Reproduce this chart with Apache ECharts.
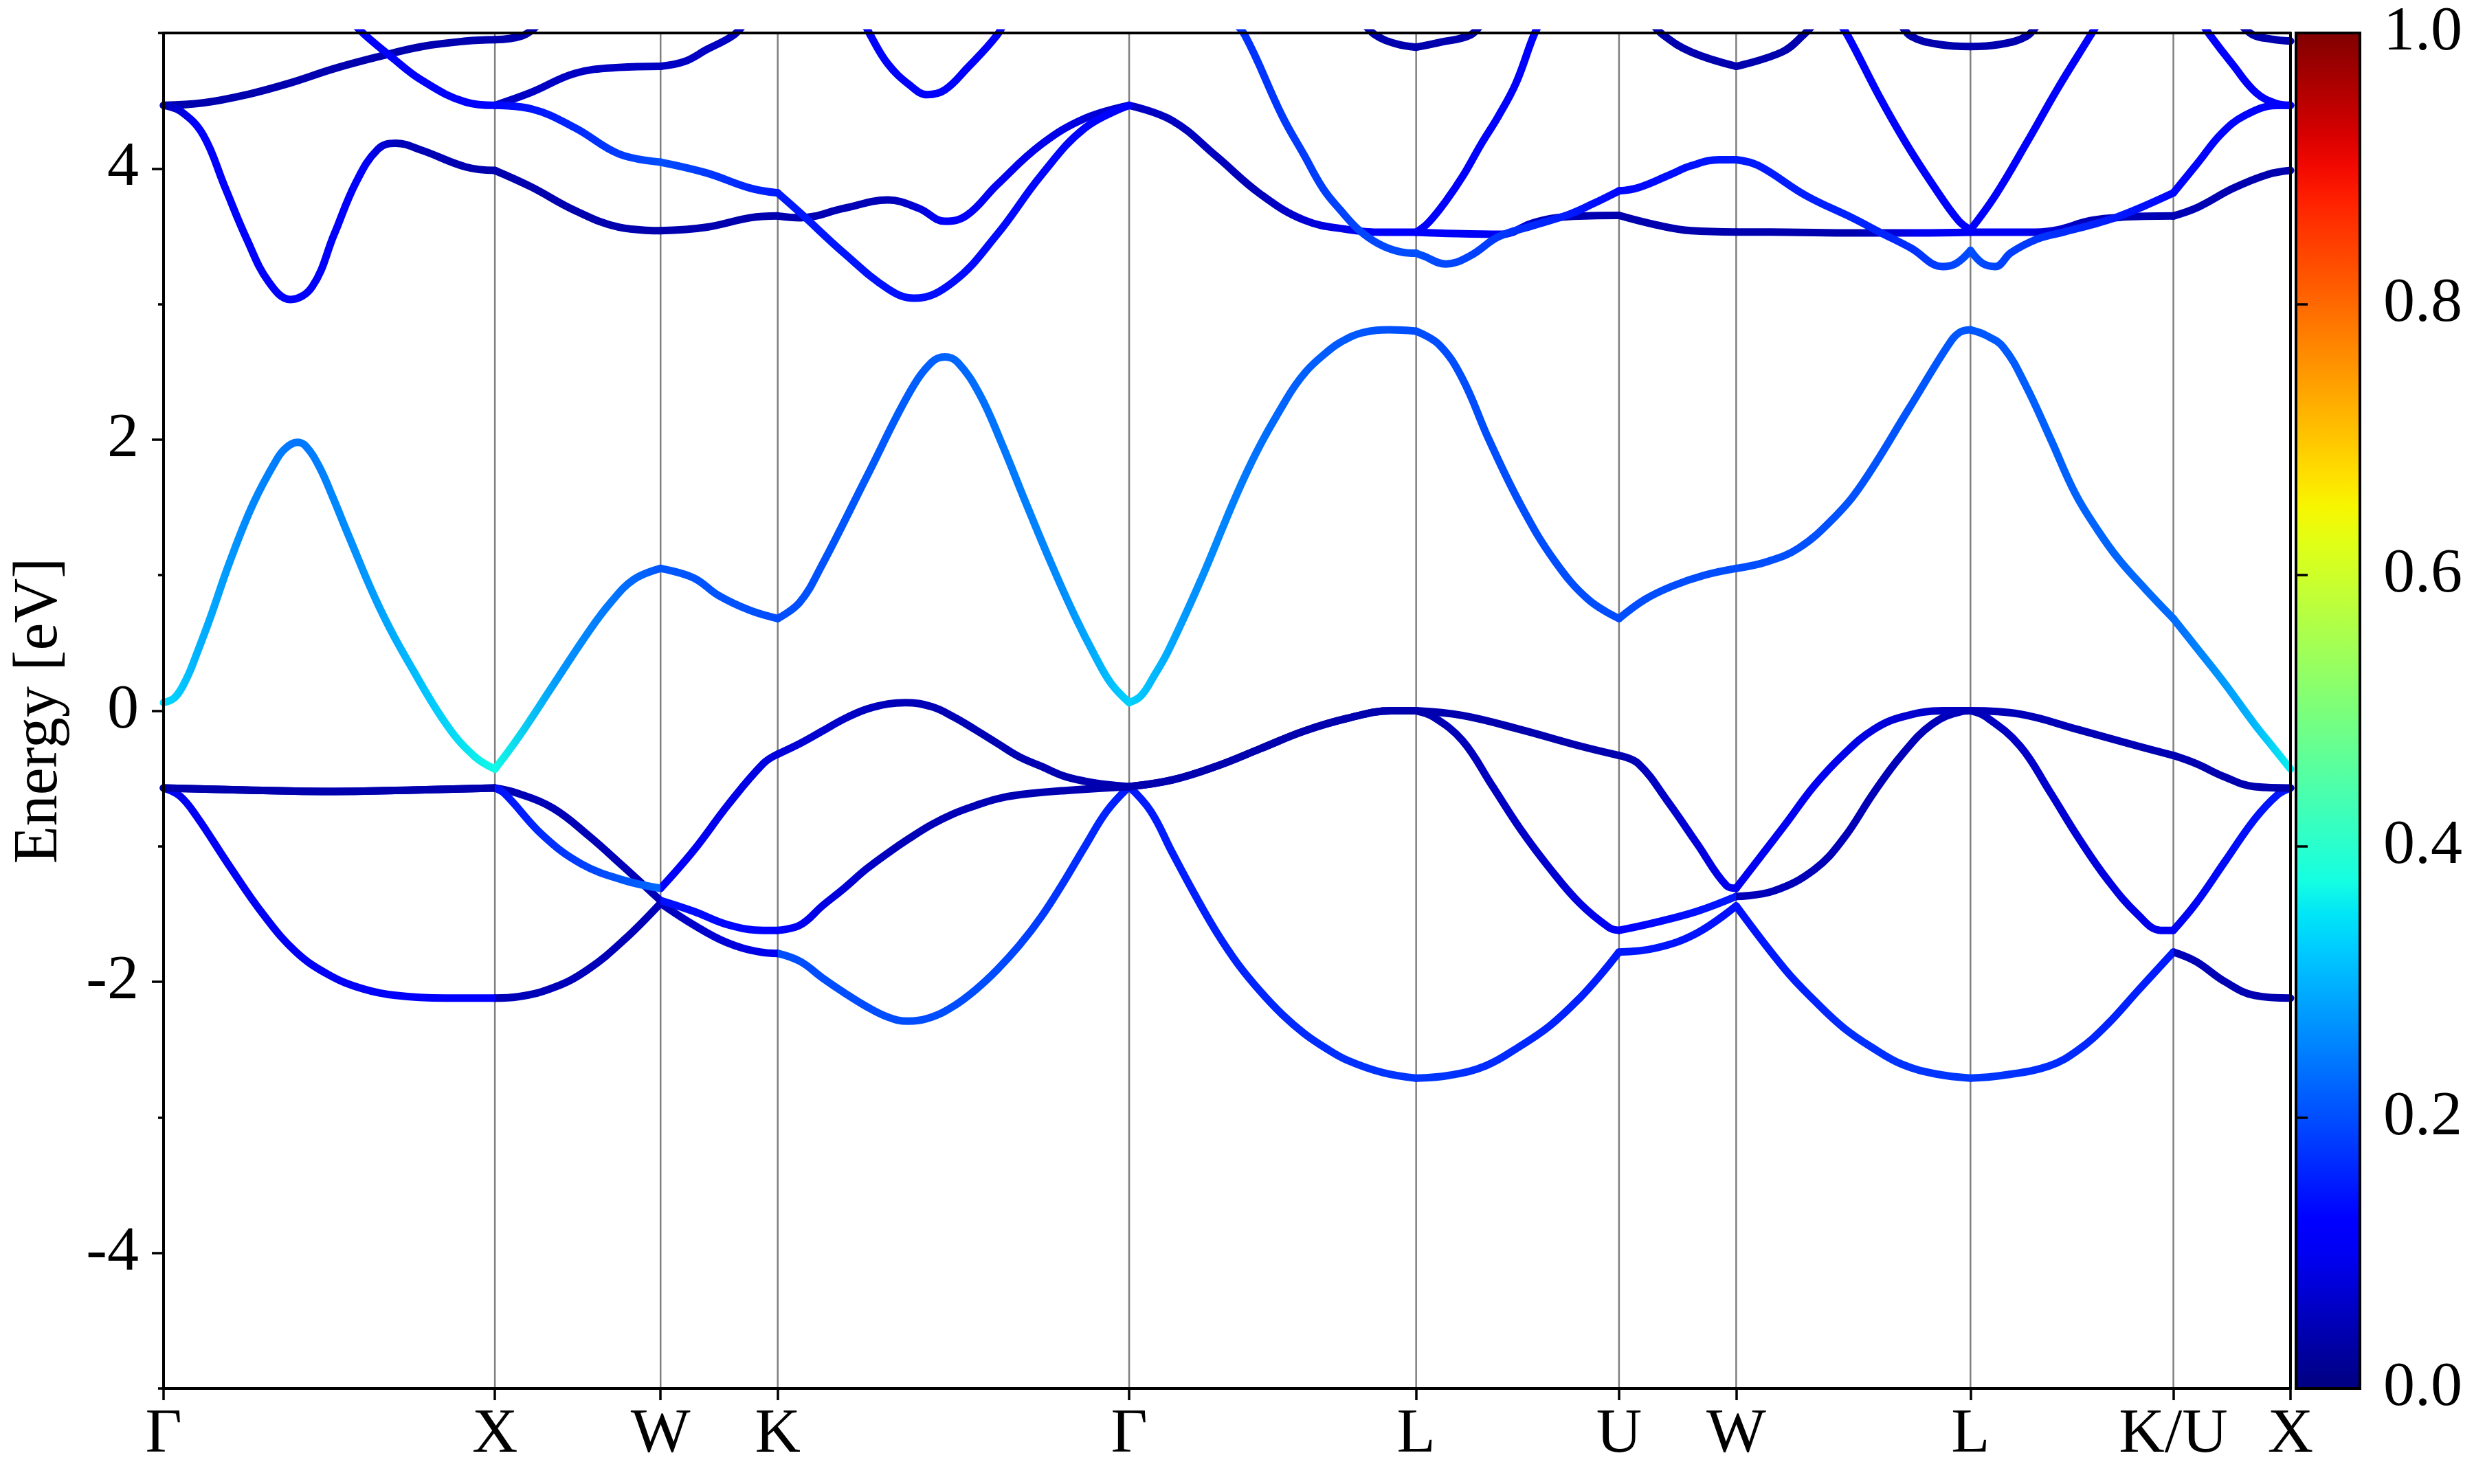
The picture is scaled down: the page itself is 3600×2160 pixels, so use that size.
<!DOCTYPE html>
<html><head><meta charset="utf-8">
<script src="https://cdn.jsdelivr.net/npm/echarts@6/dist/echarts.min.js"></script>
<style>html,body{margin:0;padding:0;background:#fff}#c{width:3600px;height:2160px}</style>
</head><body><div id="c"></div>
<script>
// high-symmetry path positions (FCC path, units of 2pi/a)
const G0=0, X1=1, W1=1.5, K1=1.8536, G2=2.9142, L1=3.7803, U1=4.3926, W2=4.7462, L2=5.4533, KU=6.0657, X2=6.4192;
const kTicks = [G0,X1,W1,K1,G2,L1,U1,W2,L2,KU,X2];
const kLabels = ['Γ','X','W','K','Γ','L','U','W','L','K/U','X'];
const yMajor = [-4,-2,0,2,4];
const yMinor = [-5,-3,-1,1,3,5];
const eRange = [-5,5];
const cbTicks = [0,0.2,0.4,0.6,0.8,1.0];
const cbRange = [0,1];

// ---- valence bands [k, E]
const vb1 = [[G0,-0.57],[0.05,-0.63],[0.1,-0.78],[0.2,-1.15],[0.3,-1.5],[0.4,-1.78],[0.5,-1.95],[0.6,-2.05],[0.7,-2.1],[0.85,-2.12],[X1,-2.12],
 [1.07,-2.11],[1.18,-2.04],[1.28,-1.91],[1.39,-1.69],[W1,-1.42],
 [1.6,-1.58],[1.7,-1.71],[1.8,-1.78],[K1,-1.79],
 [1.922,-1.85],[1.988,-1.97],[2.054,-2.08],[2.12,-2.18],[2.186,-2.26],[2.245,-2.29],[2.318,-2.26],[2.384,-2.18],[2.45,-2.06],[2.516,-1.91],[2.583,-1.73],[2.649,-1.52],[2.715,-1.27],[2.781,-1.0],[2.847,-0.74],[G2,-0.56],
 [2.979,-0.74],[3.045,-1.05],[3.111,-1.35],[3.177,-1.63],[3.243,-1.87],[3.31,-2.07],[3.376,-2.24],[3.442,-2.38],[3.508,-2.49],[3.574,-2.58],[3.68,-2.67],[L1,-2.71],
 [3.88,-2.69],[3.99,-2.62],[4.097,-2.47],[4.186,-2.32],[4.274,-2.12],[4.34,-1.94],[U1,-1.78],
 [4.505,-1.75],[4.628,-1.64],[W2,-1.44],
 [4.894,-1.91],[4.983,-2.14],[5.071,-2.34],[5.16,-2.49],[5.248,-2.61],[5.35,-2.68],[L2,-2.71],
 [5.55,-2.69],[5.691,-2.62],[5.78,-2.5],[5.868,-2.31],[5.957,-2.07],[KU,-1.78],
 [6.134,-1.85],[6.222,-2.0],[6.311,-2.1],[X2,-2.12]];
const vb2 = [[G0,-0.57],[0.25,-0.585],[0.5,-0.595],[0.75,-0.585],[X1,-0.57],
 [1.07,-0.61],[1.176,-0.72],[1.282,-0.92],[1.388,-1.15],[1.473,-1.34],[W1,-1.4],
 [1.6,-1.48],[1.705,-1.58],[1.81,-1.62],[K1,-1.62],
 [1.922,-1.58],[1.988,-1.44],[2.054,-1.31],[2.12,-1.17],[2.186,-1.05],[2.252,-0.94],[2.318,-0.84],[2.384,-0.76],[2.45,-0.7],[2.516,-0.65],[2.583,-0.62],[2.715,-0.59],[G2,-0.56],
 [3.045,-0.51],[3.177,-0.41],[3.31,-0.28],[3.442,-0.15],[3.574,-0.055],[3.706,0.0],[L1,0.0],
 [3.832,-0.045],[3.92,-0.22],[4.009,-0.55],[4.097,-0.88],[4.186,-1.17],[4.274,-1.42],[4.363,-1.6],[U1,-1.62],
 [4.505,-1.56],[4.628,-1.48],[W2,-1.37],
 [4.859,-1.33],[4.983,-1.17],[5.071,-0.94],[5.16,-0.61],[5.248,-0.32],[5.337,-0.1],[5.426,-0.006],[L2,0.0],
 [5.5,-0.045],[5.603,-0.26],[5.691,-0.59],[5.78,-0.94],[5.868,-1.25],[5.957,-1.5],[6.028,-1.62],[KU,-1.62],
 [6.134,-1.42],[6.222,-1.11],[6.311,-0.8],[6.38,-0.62],[X2,-0.57]];
const vb3 = [[G0,-0.57],[0.25,-0.585],[0.5,-0.595],[0.75,-0.585],[X1,-0.57],
 [1.029,-0.61],[1.145,-0.92],[1.261,-1.13],[1.388,-1.25],[W1,-1.31],
 [1.6,-1.03],[1.705,-0.69],[1.81,-0.39],[K1,-0.32],
 [1.922,-0.24],[1.988,-0.15],[2.054,-0.06],[2.12,0.01],[2.186,0.05],[2.239,0.06],[2.318,0.03],[2.384,-0.045],[2.45,-0.14],[2.516,-0.24],[2.583,-0.34],[2.649,-0.41],[2.715,-0.48],[2.781,-0.52],[2.847,-0.545],[G2,-0.56],
 [3.045,-0.51],[3.177,-0.41],[3.31,-0.28],[3.442,-0.15],[3.574,-0.055],[3.706,0.0],[L1,0.0],
 [3.92,-0.035],[4.097,-0.14],[4.274,-0.26],[U1,-0.33],
 [4.451,-0.39],[4.54,-0.67],[4.628,-0.98],[4.717,-1.29],[W2,-1.31],
 [4.894,-0.84],[4.983,-0.55],[5.071,-0.32],[5.16,-0.14],[5.248,-0.045],[5.372,0.0],[L2,0.0],
 [5.603,-0.025],[5.78,-0.14],[5.957,-0.26],[KU,-0.33],
 [6.134,-0.39],[6.222,-0.49],[6.311,-0.56],[X2,-0.57]];

// ---- conduction bands [k, E]
const c1 = [[G0,0.06],[0.035,0.1],[0.07,0.24],[0.1,0.42],[0.14,0.68],[0.2,1.1],[0.271,1.53],[0.343,1.86],[0.37,1.94],[0.404,1.98],[0.43,1.95],[0.47,1.8],[0.51,1.58],[0.557,1.3],[0.652,0.76],[0.753,0.3],[0.859,-0.12],[0.94,-0.34],[X1,-0.43],
 [1.07,-0.2],[1.176,0.19],[1.282,0.58],[1.35,0.8],[1.42,0.97],[W1,1.05],
 [1.6,0.98],[1.675,0.85],[1.77,0.74],[K1,0.68],
 [1.92,0.8],[1.984,1.06],[2.127,1.75],[2.252,2.35],[2.318,2.57],[2.358,2.61],[2.397,2.57],[2.464,2.33],[2.53,1.97],[2.603,1.53],[2.68,1.08],[2.75,0.7],[2.81,0.41],[2.86,0.2],[G2,0.06],
 [2.95,0.11],[2.99,0.26],[3.032,0.44],[3.128,0.95],[3.271,1.77],[3.389,2.3],[3.447,2.5],[3.508,2.64],[3.553,2.72],[3.62,2.79],[3.7,2.81],[L1,2.8],
 [3.85,2.7],[3.92,2.45],[4.0,2.0],[4.1,1.5],[4.2,1.1],[4.3,0.82],[U1,0.68],
 [4.47,0.82],[4.554,0.92],[4.65,1.0],[W2,1.05],
 [4.84,1.1],[4.935,1.2],[5.04,1.42],[5.125,1.67],[5.268,2.23],[5.387,2.7],[5.42,2.79],[L2,2.81],
 [5.5,2.77],[5.553,2.68],[5.62,2.4],[5.696,2.0],[5.77,1.6],[5.838,1.33],[5.9,1.12],[5.98,0.9],[KU,0.68],
 [6.134,0.47],[6.218,0.21],[6.311,-0.1],[6.37,-0.28],[X2,-0.43]];
const cA = [[G0,4.466],[0.053,4.42],[0.119,4.25],[0.185,3.864],[0.251,3.48],[0.317,3.165],[0.383,3.034],[0.449,3.13],[0.515,3.515],[0.581,3.899],[0.647,4.143],[0.7,4.187],[0.78,4.134],[0.912,4.012],[X1,3.986],
 [1.11,3.864],[1.242,3.69],[1.374,3.567],[W1,3.541],
 [1.638,3.567],[1.771,3.637],[K1,3.65],
 [1.922,3.637],[2.054,3.707],[2.186,3.768],[2.279,3.707],[2.358,3.611],[2.424,3.654],[2.516,3.881],[2.649,4.178],[2.781,4.37],[G2,4.466],
 [3.045,4.353],[3.177,4.091],[3.31,3.812],[3.442,3.62],[3.574,3.55],[3.68,3.53],[L1,3.53],
 [3.9,3.52],[4.04,3.515],[4.134,3.6],[4.24,3.646],[U1,3.654],
 [4.505,3.584],[4.61,3.541],[W2,3.532],
 [4.9,3.53],[5.1,3.525],[5.3,3.525],[L2,3.53],
 [5.55,3.53],[5.65,3.53],[5.718,3.548],[5.814,3.615],[5.909,3.641],[KU,3.65],
 [6.142,3.717],[6.245,3.853],[6.349,3.955],[X2,3.986]];
const cB = [[G0,4.466],[0.119,4.484],[0.251,4.545],[0.383,4.632],[0.515,4.737],[0.647,4.824],[0.78,4.9],[0.912,4.94],[X1,4.95],[1.083,4.98],[1.13,5.06]];
const cB2 = [[6.27,5.06],[6.307,4.985],[6.36,4.955],[X2,4.94]];
const cC = [[0.57,5.08],[0.608,4.985],[0.687,4.824],[0.78,4.65],[0.912,4.49],[X1,4.466],[1.11,4.562],[1.242,4.702],[1.374,4.746],[W1,4.754],[1.573,4.79],[1.638,4.876],[1.718,4.98],[1.75,5.06]];
const cD = [[X1,4.466],[1.11,4.44],[1.242,4.3],[1.374,4.108],[W1,4.047],[1.638,3.968],[1.771,3.855],[K1,3.82],
 [1.922,3.672],[2.054,3.375],[2.186,3.113],[2.265,3.043],[2.384,3.165],[2.516,3.515],[2.649,3.951],[2.781,4.3],[G2,4.466]];
const cE = [[2.11,5.1],[2.133,4.985],[2.186,4.772],[2.252,4.615],[2.305,4.545],[2.358,4.58],[2.424,4.737],[2.516,4.985],[2.54,5.1]];
const cF = [[3.22,5.1],[3.263,4.985],[3.376,4.388],[3.442,4.1],[3.5,3.85],[3.553,3.69],[3.606,3.55],[3.667,3.445],[3.733,3.385],[L1,3.375],
 [3.8,3.357],[3.87,3.296],[3.944,3.357],[4.029,3.497],[4.134,3.58],[4.24,3.66],[4.314,3.74],[U1,3.835],
 [4.452,3.86],[4.545,3.953],[4.61,4.02],[4.695,4.065],[W2,4.065],
 [4.814,4.021],[4.957,3.8],[5.1,3.632],[5.179,3.531],[5.274,3.413],[5.369,3.277],[5.41,3.3],[L2,3.396],
 [5.49,3.3],[5.528,3.277],[5.576,3.38],[5.655,3.48],[5.734,3.531],[5.814,3.582],[5.893,3.64],[5.972,3.717],[KU,3.82],
 [6.142,4.05],[6.21,4.256],[6.28,4.39],[6.376,4.465],[X2,4.466]];
const cG = [[3.62,5.08],[3.657,4.985],[3.72,4.92],[L1,4.895],[3.85,4.93],[3.944,4.985],[3.98,5.08]];
const cH = [[L1,3.53],[3.817,3.6],[3.87,3.76],[3.923,3.951],[3.976,4.178],[4.029,4.388],[4.082,4.632],[4.135,4.98],[4.16,5.1]];
const cI = [[4.49,5.08],[4.526,4.985],[4.61,4.86],[W2,4.754],[4.885,4.86],[4.949,4.985],[4.985,5.08]];
const cJ = [[5.05,5.1],[5.084,4.976],[5.179,4.528],[5.258,4.19],[5.338,3.886],[5.417,3.616],[L2,3.548]];
const cK = [[5.24,5.08],[5.274,4.976],[5.36,4.915],[L2,4.9],[5.54,4.915],[5.623,4.976],[5.66,5.08]];
const cL = [[L2,3.548],[5.528,3.8],[5.623,4.19],[5.718,4.596],[5.814,4.976],[5.84,5.08]];
const cM = [[6.15,5.08],[6.176,4.985],[6.245,4.766],[6.315,4.56],[6.376,4.48],[X2,4.466]];

// ---- projection weights along k [k, w]
const wv1 = [[0,0.1],[X1,0.12],[X1,0.05],[W1,0.05],[K1,0.1],[K1,0.2],[2.5,0.2],[G2,0.15],[3.3,0.16],[L1,0.18],[U1,0.15],[W2,0.14],[5.1,0.17],[L2,0.18],[KU,0.15],[KU,0.05],[X2,0.04]];
const wv2 = [[0,0.04],[W1,0.05],[W1,0.14],[K1,0.12],[2.2,0.05],[G2,0.04],[L1,0.04],[4.2,0.07],[U1,0.11],[W2,0.15],[W2,0.05],[L2,0.05],[KU,0.1],[X2,0.15]];
const wv3 = [[0,0.04],[X1,0.04],[X1,0.14],[W1,0.23],[W1,0.12],[K1,0.08],[2.2,0.05],[G2,0.04],[U1,0.04],[W2,0.1],[5.0,0.1],[L2,0.05],[X2,0.04]];
const wc1 = [[0,0.34],[0.1,0.3],[0.25,0.26],[0.4,0.24],[0.6,0.27],[0.8,0.32],[X1,0.37],[1.2,0.27],[W1,0.21],[K1,0.2],[2.35,0.22],[2.7,0.26],[G2,0.33],[3.1,0.27],[3.4,0.22],[L1,0.2],[U1,0.2],[W2,0.2],[L2,0.21],[KU,0.23],[6.3,0.3],[X2,0.36]];
const wcA = [[0,0.05],[0.1,0.11],[0.6,0.12],[0.7,0.05],[X1,0.04],[K1,0.04],[2.2,0.05],[2.36,0.11],[2.7,0.09],[G2,0.06],[3.3,0.05],[3.6,0.1],[L1,0.11],[4.05,0.1],[4.15,0.05],[U1,0.04],[5.1,0.04],[5.3,0.1],[5.6,0.1],[5.8,0.05],[X2,0.04]];
const wcC = [[0,0.12],[X1,0.12],[X1,0.06],[X2,0.05]];
const wcD = [[X1,0.13],[W1,0.2],[K1,0.15],[G2,0.12]];
const wcF = [[3.2,0.17],[L1,0.2],[3.95,0.19],[U1,0.13],[W2,0.15],[5.2,0.16],[L2,0.2],[5.8,0.16],[KU,0.13],[X2,0.12]];
const wDark = [[0,0.04],[X2,0.04]];
const wBlue = [[0,0.12],[X2,0.12]];
const wE = [[0,0.11],[X2,0.11]];

const bandList = [
  [vb1,wv1],[vb2,wv2],[vb3,wv3],[c1,wc1],
  [cB,wDark],[cB2,wDark],[cG,wDark],[cI,wDark],[cK,wDark],
  [cA,wcA],[cC,wcC],[cD,wcD],[cE,wE],[cF,wcF],
  [cH,wBlue],[cJ,wBlue],[cL,wBlue],[cM,wBlue]
];

// matplotlib 'jet' colormap
function lin(v, pts){ for(let i=1;i<pts.length;i++){ if(v<=pts[i][0]){ const a=pts[i-1], b=pts[i]; return a[1]+(b[1]-a[1])*(v-a[0])/(b[0]-a[0]); } } return pts[pts.length-1][1]; }
function jet(v){ v=Math.max(0,Math.min(1,v));
  const r=lin(v,[[0,0],[0.35,0],[0.66,1],[0.89,1],[1,0.5]]);
  const g=lin(v,[[0,0],[0.125,0],[0.375,1],[0.64,1],[0.91,0],[1,0]]);
  const b=lin(v,[[0,0.5],[0.11,1],[0.34,1],[0.65,0],[1,0]]);
  return 'rgb('+Math.round(r*255)+','+Math.round(g*255)+','+Math.round(b*255)+')'; }

const FONT = 'Liberation Serif';
const chart = echarts.init(document.getElementById('c'), null, {renderer:'canvas'});
const frameLine = {show:true, onZero:false, lineStyle:{color:'#000', width:4}};
const tickStyle = {color:'#000', width:3.5};
chart.setOption({
  animation:false,
  backgroundColor:'#fff',
  grid:[{left:238, right:267, top:48, bottom:139},
        {left:3341, right:166, top:48, bottom:139}],
  xAxis:[
    {gridIndex:0, type:'value', min:G0, max:X2, position:'bottom', z:10,
     axisLine:frameLine,
     axisTick:{show:true, customValues:kTicks, length:17, inside:false, lineStyle:tickStyle},
     axisLabel:{show:true, customValues:kTicks, margin:22, fontFamily:FONT, fontSize:92, color:'#000',
       formatter:(v)=>{ const i=kTicks.findIndex(t=>Math.abs(t-v)<1e-6); return i>=0?kLabels[i]:''; }},
     splitLine:{show:false}},
    {gridIndex:0, type:'value', min:G0, max:X2, position:'top', z:10,
     axisLine:frameLine, axisTick:{show:false}, axisLabel:{show:false}, splitLine:{show:false}},
    {gridIndex:1, type:'value', min:0, max:1, show:false}
  ],
  yAxis:[
    {gridIndex:0, type:'value', min:eRange[0], max:eRange[1], position:'left', z:10,
     axisLine:frameLine,
     axisTick:{show:true, customValues:yMajor, length:17, lineStyle:tickStyle},
     axisLabel:{show:true, customValues:yMajor, margin:36, fontFamily:FONT, fontSize:92, color:'#000'},
     splitLine:{show:false},
     name:'Energy [eV]', nameLocation:'middle', nameGap:135,
     nameTextStyle:{fontFamily:FONT, fontSize:90, color:'#000'}},
    {gridIndex:0, type:'value', min:eRange[0], max:eRange[1], position:'left', z:10,
     axisLine:{show:false}, axisTick:{show:true, customValues:yMinor, length:8, lineStyle:tickStyle},
     axisLabel:{show:false}, splitLine:{show:false}},
    {gridIndex:0, type:'value', min:eRange[0], max:eRange[1], position:'right', z:10,
     axisLine:frameLine, axisTick:{show:false}, axisLabel:{show:false}, splitLine:{show:false}},
    {gridIndex:1, type:'value', min:cbRange[0], max:cbRange[1], position:'right', z:10,
     axisLine:{show:false},
     axisTick:{show:true, customValues:cbTicks, length:17, lineStyle:tickStyle},
     axisLabel:{show:true, customValues:cbTicks, margin:34, fontFamily:FONT, fontSize:92, color:'#000',
       formatter:(v)=>v.toFixed(1)},
     splitLine:{show:false}}
  ]
});

const px0 = chart.convertToPixel({xAxisIndex:0}, G0);
const px1 = chart.convertToPixel({xAxisIndex:0}, X2);
function gradFor(wts){
  const stops = wts.map(([k,w])=>({offset:Math.min(1,Math.max(0,(k-G0)/(X2-G0))), color:jet(w)}));
  if(stops[0].offset>0) stops.unshift({offset:0,color:stops[0].color});
  if(stops[stops.length-1].offset<1) stops.push({offset:1,color:stops[stops.length-1].color});
  return {type:'linear', x:px0, y:0, x2:px1, y2:0, global:true, colorStops:stops};
}
function splitSeg(pts){
  const pieces=[]; let cur=[];
  pts.forEach((p,i)=>{
    cur.push(p);
    const hs = kTicks.some(h=>Math.abs(h-p[0])<1e-9);
    if(hs && cur.length>1 && i<pts.length-1){ pieces.push(cur); cur=[p]; }
  });
  if(cur.length>1) pieces.push(cur);
  return pieces;
}

const series = [];
// vertical guides at interior high-symmetry points
kTicks.slice(1,-1).forEach(k=>{
  series.push({type:'line', xAxisIndex:0, yAxisIndex:0, data:[[k,eRange[0]],[k,eRange[1]]],
    showSymbol:false, silent:true, z:1, lineStyle:{color:'#808080', width:2.5}});
});
bandList.forEach(([pts,wts])=>{
  const grad = gradFor(wts);
  splitSeg(pts).forEach(piece=>{
    series.push({type:'line', xAxisIndex:0, yAxisIndex:0, data:piece, smooth:0.4,
      showSymbol:false, silent:true, clip:true, z:3,
      lineStyle:{width:11, color:grad, cap:'round', join:'round'}});
  });
});
// colorbar
const cbStops = [];
for(let i=0;i<=40;i++){ const v=i/40; cbStops.push({offset:v, color:jet(v)}); }
series.push({type:'custom', xAxisIndex:2, yAxisIndex:3, silent:true, z:3,
  data:[[cbRange[0],cbRange[0]]],
  renderItem:(params, api)=>{
    const p0 = api.coord([0,cbRange[0]]), p1 = api.coord([1,cbRange[1]]);
    return {type:'rect', shape:{x:p0[0], y:p1[1], width:p1[0]-p0[0], height:p0[1]-p1[1]},
      style:{fill:new echarts.graphic.LinearGradient(0,1,0,0,cbStops), stroke:'#000', lineWidth:4}};
  }});
chart.setOption({series:series});
</script>
</body></html>
